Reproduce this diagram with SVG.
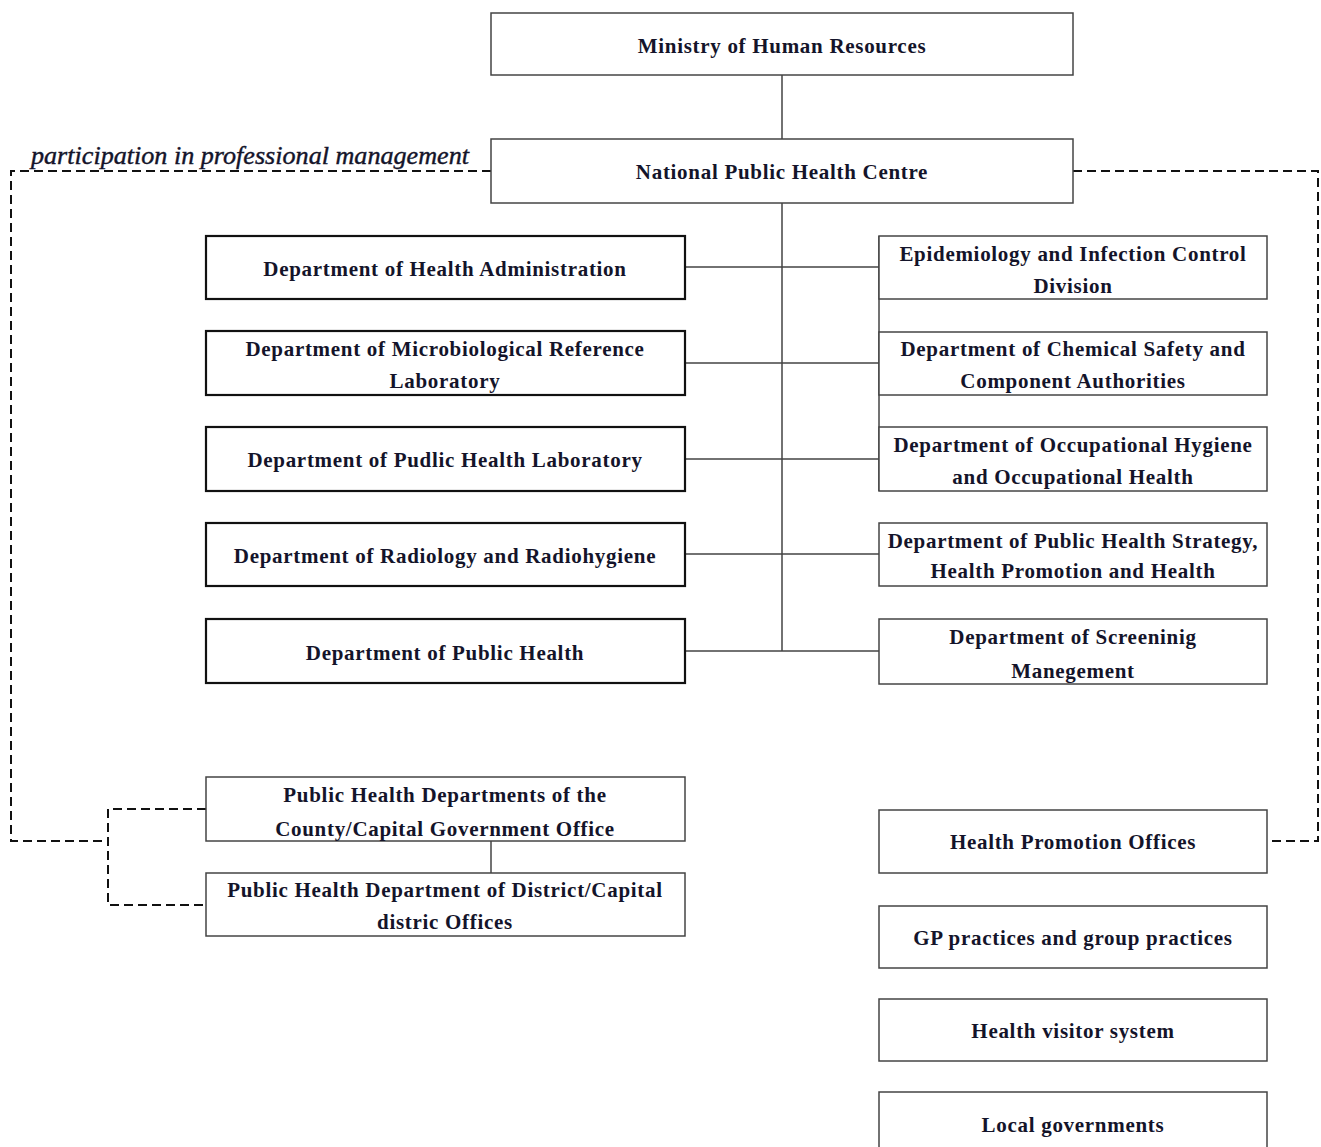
<svg xmlns="http://www.w3.org/2000/svg" width="1321" height="1147" viewBox="0 0 1321 1147">
<style>
.box{fill:#fff;stroke:#444;stroke-width:1.5}
.boxb{fill:#fff;stroke:#111;stroke-width:2.2}
.t{font-family:"Liberation Serif","Times New Roman",serif;font-weight:bold;font-size:21px;letter-spacing:0.7px;fill:#14142a;text-anchor:middle;dominant-baseline:central}
.lbl{font-family:"Liberation Serif","Times New Roman",serif;font-style:italic;font-size:25px;fill:#14142a;stroke:#14142a;stroke-width:0.4}
.ln{stroke:#444;stroke-width:1.5;fill:none}
.dash{stroke:#111;stroke-width:2;fill:none;stroke-dasharray:9 5}
</style>
<rect width="1321" height="1147" fill="#fff"/>
<g id="connectors">
<path class="ln" d="M782,75 V139 M782,203 V651"/>
<path class="ln" d="M685,267 H879 M685,363 H879 M685,459 H879 M685,554 H879 M685,651 H879"/>
<path class="ln" d="M879,236 V491"/>
<path class="ln" d="M491,841 V873"/>
<path class="dash" d="M491,171 H11 V841 H108"/>
<path class="dash" d="M206,809 H108 V905 H206"/>
<path class="dash" d="M1073,171 H1318 V841 H1267"/>
</g>
<text class="lbl" x="31" y="164" textLength="438" lengthAdjust="spacingAndGlyphs">participation in professional management</text>
<g id="ministry"><rect class="box" x="491" y="13" width="582" height="62"/><text class="t" x="782" y="46">Ministry of Human Resources</text></g>
<g id="nphc"><rect class="box" x="491" y="139" width="582" height="64"/><text class="t" x="782" y="172">National Public Health Centre</text></g>
<g id="l1"><rect class="boxb" x="206" y="236" width="479" height="63"/><text class="t" x="445" y="269">Department of Health Administration</text></g>
<g id="l2"><rect class="boxb" x="206" y="331" width="479" height="64"/><text class="t" x="445" y="349">Department of Microbiological Reference</text><text class="t" x="445" y="381">Laboratory</text></g>
<g id="l3"><rect class="boxb" x="206" y="427" width="479" height="64"/><text class="t" x="445" y="460">Department of Pudlic Health Laboratory</text></g>
<g id="l4"><rect class="boxb" x="206" y="523" width="479" height="63"/><text class="t" x="445" y="556">Department of Radiology and Radiohygiene</text></g>
<g id="l5"><rect class="boxb" x="206" y="619" width="479" height="64"/><text class="t" x="445" y="653">Department of Public Health</text></g>
<g id="r1"><rect class="box" x="879" y="236" width="388" height="63"/><text class="t" x="1073" y="254">Epidemiology and Infection Control</text><text class="t" x="1073" y="286">Division</text></g>
<g id="r2"><rect class="box" x="879" y="332" width="388" height="63"/><text class="t" x="1073" y="349">Department of Chemical Safety and</text><text class="t" x="1073" y="381">Component Authorities</text></g>
<g id="r3"><rect class="box" x="879" y="427" width="388" height="64"/><text class="t" x="1073" y="445">Department of Occupational Hygiene</text><text class="t" x="1073" y="477">and Occupational Health</text></g>
<g id="r4"><rect class="box" x="879" y="523" width="388" height="63"/><text class="t" x="1073" y="541">Department of Public Health Strategy,</text><text class="t" x="1073" y="571">Health Promotion and Health</text></g>
<g id="r5"><rect class="box" x="879" y="619" width="388" height="65"/><text class="t" x="1073" y="637">Department of Screeninig</text><text class="t" x="1073" y="671">Manegement</text></g>
<g id="c1"><rect class="box" x="206" y="777" width="479" height="64"/><text class="t" x="445" y="795">Public Health Departments of the</text><text class="t" x="445" y="829">County/Capital Government Office</text></g>
<g id="c2"><rect class="box" x="206" y="873" width="479" height="63"/><text class="t" x="445" y="890">Public Health Department of District/Capital</text><text class="t" x="445" y="922">distric Offices</text></g>
<g id="hpo"><rect class="box" x="879" y="810" width="388" height="63"/><text class="t" x="1073" y="842">Health Promotion Offices</text></g>
<g id="gp"><rect class="box" x="879" y="906" width="388" height="62"/><text class="t" x="1073" y="938">GP practices and group practices</text></g>
<g id="hvs"><rect class="box" x="879" y="999" width="388" height="62"/><text class="t" x="1073" y="1031">Health visitor system</text></g>
<g id="lg"><rect class="box" x="879" y="1092" width="388" height="70"/><text class="t" x="1073" y="1125">Local governments</text></g>
</svg>
